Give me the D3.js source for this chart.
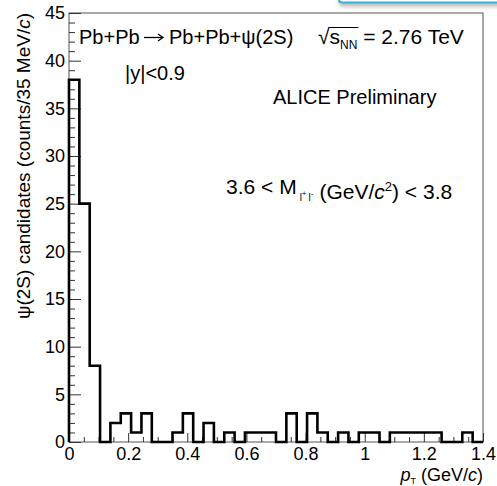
<!DOCTYPE html>
<html>
<head>
<meta charset="utf-8">
<script src="https://cdn.jsdelivr.net/npm/d3@7/dist/d3.min.js"></script>
<style>
  html, body { margin: 0; padding: 0; background: #fff; }
  svg { display: block; }
  text { font-family: "Liberation Sans", Arial, Helvetica, sans-serif; fill: #000; }
</style>
</head>
<body>
<svg id="chart" width="497" height="486"></svg>
<script>
// psi(2S) candidate counts per 35 MeV/c bin of pT, from 0 to 1.4 GeV/c
const binWidth = 0.035;
const counts = [38, 25, 8, 0, 2, 3, 1, 3, 0, 0,
                1, 3, 0, 2, 0, 1, 0, 1, 1, 1,
                0, 3, 0, 3, 1, 0, 1, 0, 1, 1,
                0, 1, 1, 1, 1, 1, 0, 0, 1, 0];
const xMajorTicks = [0, 0.2, 0.4, 0.6, 0.8, 1.0, 1.2, 1.4];
const xTickLabels = ["0", "0.2", "0.4", "0.6", "0.8", "1", "1.2", "1.4"];
const yMajorTicks = [0, 5, 10, 15, 20, 25, 30, 35, 40, 45];
const xDomain = [0, 1.4];
const yDomain = [0, 45];

const svg = d3.select("#chart");
const plot = { left: 69, right: 483, top: 13, bottom: 442 };

const x = d3.scaleLinear().domain(xDomain).range([plot.left, plot.right]);
const y = d3.scaleLinear().domain(yDomain).range([plot.bottom, plot.top]);

// slide box peeking in at the top right
const defs = svg.append("defs");
const shadow = defs.append("filter").attr("id", "boxShadow")
  .attr("x", "-20%").attr("y", "-50%").attr("width", "140%").attr("height", "200%");
shadow.append("feDropShadow").attr("dx", 1).attr("dy", 3).attr("stdDeviation", 2)
  .attr("flood-color", "#888").attr("flood-opacity", 0.6);
svg.append("rect")
  .attr("x", 339).attr("y", -30).attr("width", 200).attr("height", 32.5).attr("rx", 3)
  .attr("fill", "#fff").attr("stroke", "#3aaed8").attr("stroke-width", 2)
  .attr("filter", "url(#boxShadow)");

// frame
svg.append("rect")
  .attr("x", plot.left).attr("y", plot.top)
  .attr("width", plot.right - plot.left).attr("height", plot.bottom - plot.top)
  .attr("fill", "none").attr("stroke", "#555").attr("stroke-width", 1);

// minor ticks
const xMinor = d3.range(0, 28).map(i => i * 0.05).filter(v => !xMajorTicks.some(t => Math.abs(t - v) < 1e-9));
const yMinor = d3.range(0, 45).filter(v => v % 5 !== 0);

const styleAxis = g => {
  g.select(".domain").remove();
  g.selectAll(".tick line").attr("stroke", "#333").attr("stroke-width", 1);
  g.selectAll("text").style("font-size", "18px").attr("fill", "#000");
};

svg.append("g").attr("transform", `translate(0,${plot.bottom})`)
  .call(d3.axisBottom(x).tickValues(xMinor).tickSize(-5).tickFormat(""))
  .call(styleAxis);
svg.append("g").attr("transform", `translate(0,${plot.bottom})`)
  .call(d3.axisBottom(x).tickValues(xMajorTicks).tickSize(-9).tickPadding(5)
        .tickFormat((d, i) => xTickLabels[i]))
  .call(styleAxis);

svg.append("g").attr("transform", `translate(${plot.left},0)`)
  .call(d3.axisLeft(y).tickValues(yMinor).tickSize(-6).tickFormat(""))
  .call(styleAxis);
svg.append("g").attr("transform", `translate(${plot.left},0)`)
  .call(d3.axisLeft(y).tickValues(yMajorTicks).tickSize(-12).tickPadding(4)
        .tickFormat(d3.format("d")))
  .call(styleAxis);

// histogram as a step outline
const pts = [];
counts.forEach((c, i) => {
  pts.push([i * binWidth, c]);
  pts.push([(i + 1) * binWidth, c]);
});
pts.unshift([0, 0]);
pts.push([counts.length * binWidth, 0]);
svg.append("path")
  .attr("d", d3.line().x(d => x(d[0])).y(d => y(d[1]))(pts))
  .attr("fill", "none").attr("stroke", "#000").attr("stroke-width", 2.6)
  .attr("stroke-linejoin", "miter");

// axis titles
const xt = svg.append("text").attr("x", plot.right).attr("y", 481)
  .attr("text-anchor", "end").style("font-size", "18px");
xt.append("tspan").style("font-style", "italic").text("p");
xt.append("tspan").attr("dy", 3).style("font-size", "9px").text("T");
xt.append("tspan").attr("dy", -3).attr("dx", 5).text("(GeV/");
xt.append("tspan").style("font-style", "italic").text("c");
xt.append("tspan").text(")");

const yt = svg.append("text")
  .attr("transform", `translate(30,${plot.top}) rotate(-90)`)
  .attr("text-anchor", "end").style("font-size", "19px");
yt.append("tspan").text("ψ(2S) candidates (counts/35 MeV/");
yt.append("tspan").style("font-style", "italic").text("c");
yt.append("tspan").text(")");

// annotations
const fs = "20px";
svg.append("text").attr("x", 79).attr("y", 44).style("font-size", fs).text("Pb+Pb");
// reaction arrow
{
  const ay = 37.5, ax0 = 144, ax1 = 163;
  svg.append("line").attr("x1", ax0).attr("x2", ax1 - 1).attr("y1", ay).attr("y2", ay)
    .attr("stroke", "#000").attr("stroke-width", 1.3);
  svg.append("path")
    .attr("d", `M${ax1 - 5},${ay - 3.5} L${ax1},${ay} L${ax1 - 5},${ay + 3.5}`)
    .attr("fill", "none").attr("stroke", "#000").attr("stroke-width", 1.3);
}
svg.append("text").attr("x", 169).attr("y", 44).style("font-size", fs).text("Pb+Pb+ψ(2S)");

const t2 = svg.append("text").attr("x", 318).attr("y", 44).style("font-size", "21px");
t2.append("tspan").text("\u221A");
t2.append("tspan").text("s");
t2.append("tspan").attr("dy", 5).style("font-size", "12px").text("NN");
t2.append("tspan").attr("dy", -5).text(" = 2.76 TeV");
// overbar of the square root
{
  const n = t2.node();
  const start = n.getStartPositionOfChar(1).x;
  const end = n.getEndPositionOfChar(3).x;
  svg.append("line").attr("x1", start - 1).attr("x2", end + 1)
    .attr("y1", 27.5).attr("y2", 27.5).attr("stroke", "#000").attr("stroke-width", 1);
}

svg.append("text").attr("x", 125).attr("y", 80).style("font-size", fs).text("|y|<0.9");
svg.append("text").attr("x", 273).attr("y", 104).style("font-size", fs).text("ALICE Preliminary");

const t3 = svg.append("text").attr("x", 226).attr("y", 194).style("font-size", "21px");
t3.append("tspan").text("3.6 < M");
t3.append("tspan").attr("dy", 7).attr("dx", 3).style("font-size", "10px").text("l");
t3.append("tspan").attr("dy", -5).style("font-size", "8px").text("+");
t3.append("tspan").attr("dy", 5).attr("dx", 2).style("font-size", "10px").text("l");
t3.append("tspan").attr("dy", -5).style("font-size", "8px").text("-");
t3.append("tspan").attr("dy", 3).attr("dx", 6).text("(GeV/");
t3.append("tspan").style("font-style", "italic").text("c");
t3.append("tspan").attr("dy", -8).style("font-size", "13px").text("2");
t3.append("tspan").attr("dy", 8).text(") < 3.8");
</script>
</body>
</html>
